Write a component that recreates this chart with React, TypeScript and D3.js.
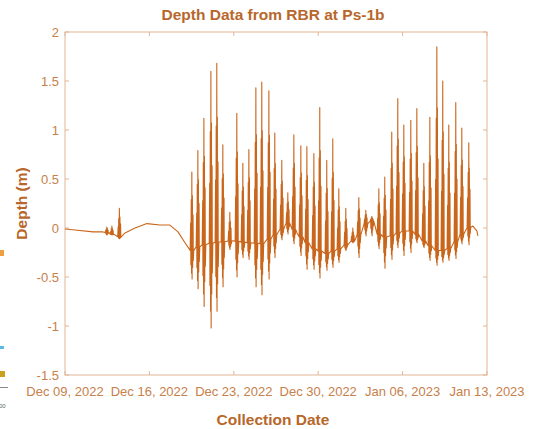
import React from "react";
import * as d3 from "d3";

// ---- data ----
const startDate = new Date(2022, 11, 9);
const endDate = new Date(2023, 0, 13);
const xTickDates = [
  new Date(2022, 11, 9), new Date(2022, 11, 16), new Date(2022, 11, 23),
  new Date(2022, 11, 30), new Date(2023, 0, 6), new Date(2023, 0, 13),
];
const yTicks = [-1.5, -1, -0.5, 0, 0.5, 1, 1.5, 2];

// slow (mean) level: days after Dec 09 and depth (m)
const baseDays = [0, 0.83, 2.32, 3.15, 3.73, 4.4, 4.98, 5.8, 6.8, 7.88, 8.7, 9.37, 9.95, 10.36, 11.2, 12.27, 13.93, 15.09, 16.42, 17.83, 18.49, 19.24, 20.56, 21.72, 22.8, 23.88, 24.46, 25.04, 25.46, 25.95, 26.7, 28.03, 28.86, 30.02, 30.85, 31.67, 32.5, 33.33, 33.83, 34.16, 34.25];
const baseValues = [-0.01, -0.02, -0.04, -0.04, -0.05, -0.1, -0.05, 0.0, 0.045, 0.03, 0.03, -0.04, -0.15, -0.24, -0.18, -0.15, -0.13, -0.15, -0.16, -0.03, 0.05, -0.05, -0.21, -0.26, -0.21, -0.13, -0.06, 0.06, 0.07, -0.06, -0.1, -0.03, -0.03, -0.16, -0.23, -0.23, -0.13, 0.0, 0.02, -0.03, -0.08];

// tidal bursts: centre (days after Dec 09), peak and trough depth (m)
const spikeDays = [3.48, 3.9, 4.52, 10.53, 11.03, 11.53, 12.11, 12.6, 13.1, 13.68, 14.26, 14.76, 15.26, 15.84, 16.33, 16.92, 17.41, 17.99, 18.49, 18.99, 19.57, 20.07, 20.65, 21.14, 21.72, 22.22, 22.72, 23.3, 23.88, 24.38, 24.96, 25.46, 26.04, 26.53, 27.11, 27.61, 28.11, 28.69, 29.19, 29.77, 30.27, 30.85, 31.34, 31.84, 32.42, 32.92, 33.5];
const spikeHigh = [0.01, 0.02, 0.2, 0.57, 0.79, 1.12, 1.6, 1.68, 0.85, 0.16, 1.17, 0.66, 0.8, 1.43, 1.49, 1.4, 0.97, 0.69, 0.36, 0.95, 0.84, 0.83, 0.76, 1.23, 0.69, 0.91, 0.4, 0.2, 0.0, 0.31, 0.18, 0.12, 0.4, 0.52, 0.98, 1.32, 1.05, 1.1, 1.22, 0.66, 1.13, 1.85, 1.5, 1.05, 1.28, 1.02, 0.87];
const spikeLow = [-0.07, -0.07, -0.11, -0.52, -0.62, -0.8, -1.02, -0.85, -0.6, -0.22, -0.5, -0.3, -0.32, -0.6, -0.68, -0.52, -0.3, -0.12, -0.06, -0.16, -0.28, -0.42, -0.42, -0.51, -0.43, -0.4, -0.35, -0.23, -0.15, -0.3, -0.08, -0.08, -0.21, -0.41, -0.32, -0.2, -0.28, -0.25, -0.15, -0.2, -0.33, -0.38, -0.35, -0.33, -0.31, -0.16, -0.17];

// ---- layout ----
const W = 539, H = 429;
const M = { left: 65, right: 487, top: 32, bottom: 375 };
const LINE = "#c9661b";
const AXIS = "#e2b596";
const TICKTXT = "#c7804a";
const TITLE = "#b8672b";
const FONT = "'Liberation Sans', Arial, sans-serif";

// burst template (time offset in days, which extreme, fraction)
const burst: [number, number, number][] = [
  [-0.15, 0, 0], [-0.11, 1, 0.35], [-0.09, -1, 0.5], [-0.06, 1, 0.65], [-0.035, -1, 0.8],
  [-0.01, 1, 1], [0.01, -1, 1], [0.035, 1, 0.7], [0.06, -1, 0.6], [0.09, 1, 0.45],
  [0.11, -1, 0.35], [0.15, 0, 0],
];

export default function App() {
  const x = d3.scaleTime().domain([startDate, endDate]).range([M.left, M.right]);
  const y = d3.scaleLinear().domain([-1.5, 2]).range([M.bottom, M.top]);
  const baseAt = d3.scaleLinear().domain(baseDays).range(baseValues).clamp(true);
  const dayMs = 86400000;

  const pts: { d: number; v: number }[] = [];
  baseDays.forEach((d, i) => {
    if (!spikeDays.some((s) => Math.abs(s - d) < 0.17)) pts.push({ d, v: baseValues[i] });
  });
  spikeDays.forEach((s, i) => {
    const b = baseAt(s);
    burst.forEach(([o, k, f]) => {
      const ext = k > 0 ? spikeHigh[i] : k < 0 ? spikeLow[i] : b;
      pts.push({ d: s + o, v: b + f * (ext - b) });
    });
  });
  pts.sort((a, b) => a.d - b.d);

  const line = d3
    .line<{ d: number; v: number }>()
    .x((p) => x(new Date(startDate.getTime() + p.d * dayMs)))
    .y((p) => y(p.v));

  const fmt = d3.timeFormat("%b %d, %Y");

  return (
    <svg width={W} height={H} style={{ position: "fixed", left: 0, top: 0, background: "#fff" }} fontFamily={FONT}>
      {/* fragments of neighbouring figure at the left edge */}
      <rect x={0} y={250} width={4} height={6} fill="#f0a040" />
      <rect x={0} y={346} width={4} height={3} fill="#5bb8e8" />
      <rect x={0} y={371} width={5} height={6} fill="#c9a020" />
      <rect x={0} y={387} width={8} height={1} fill="#888" />
      <text x={-1} y={408} fontSize={6} fill="#666">00</text>

      <rect x={M.left} y={M.top} width={M.right - M.left} height={M.bottom - M.top} fill="none" stroke={AXIS} strokeWidth={1} />

      {xTickDates.map((d, i) => (
        <g key={i}>
          <line x1={x(d)} x2={x(d)} y1={M.bottom} y2={M.bottom - 4} stroke={AXIS} />
          <line x1={x(d)} x2={x(d)} y1={M.top} y2={M.top + 4} stroke={AXIS} />
          <text x={x(d)} y={M.bottom + 21} fontSize={13} fill={TICKTXT} textAnchor="middle">{fmt(d)}</text>
        </g>
      ))}
      {yTicks.map((t, i) => (
        <g key={i}>
          <line x1={M.left} x2={M.left + 4} y1={y(t)} y2={y(t)} stroke={AXIS} />
          <line x1={M.right} x2={M.right - 4} y1={y(t)} y2={y(t)} stroke={AXIS} />
          <text x={M.left - 6} y={y(t) + 4.5} fontSize={13} fill={TICKTXT} textAnchor="end">{String(t)}</text>
        </g>
      ))}

      <path d={line(pts) || ""} fill="none" stroke={LINE} strokeWidth={1.1} strokeLinejoin="round" />

      <text x={273} y={20} fontSize={15.5} fontWeight="bold" fill={TITLE} textAnchor="middle">Depth Data from RBR at Ps-1b</text>
      <text x={273} y={425} fontSize={15.5} fontWeight="bold" fill={TITLE} textAnchor="middle">Collection Date</text>
      <text transform={`translate(27,${(M.top + M.bottom) / 2}) rotate(-90)`} fontSize={15.5} fontWeight="bold" fill={TITLE} textAnchor="middle">Depth (m)</text>
    </svg>
  );
}
